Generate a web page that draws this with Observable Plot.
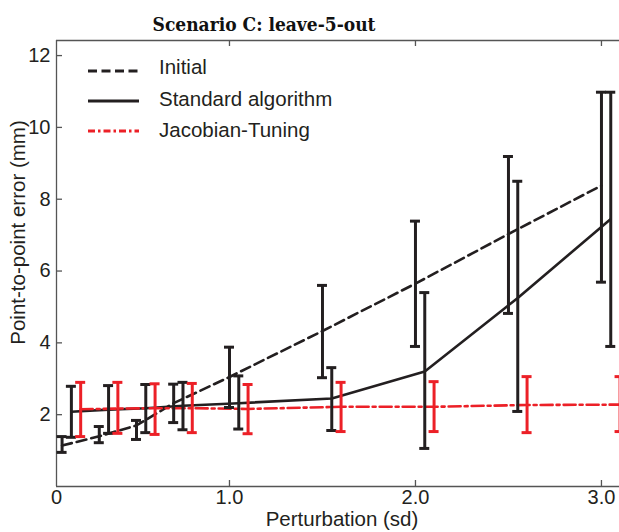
<!DOCTYPE html>
<html>
<head>
<meta charset="utf-8">
<script src="https://cdn.jsdelivr.net/npm/d3@7"></script>
<script src="https://cdn.jsdelivr.net/npm/@observablehq/plot@0.6"></script>
<style>
  body { margin: 0; background: #fff; }
  #wrap { position: relative; width: 619px; height: 532px; overflow: hidden; }
  #legend { position: absolute; left: 0; top: 0; pointer-events: none; }
</style>
</head>
<body>
<div id="wrap"></div>
<script>
// ---- data ----
const perturbation = [0.1, 0.3, 0.5, 0.7, 1.0, 1.5, 2.0, 2.5, 3.0];

const initialMean = [1.14, 1.40, 1.70, 2.32, 3.05, 4.33, 5.65, 7.03, 8.38];
const initialLo   = [0.95, 1.22, 1.31, 1.78, 2.20, 3.03, 3.90, 4.82, 5.69];
const initialHi   = [1.39, 1.67, 1.84, 2.85, 3.88, 5.60, 7.39, 9.19, 10.98];

const standardMean = [2.08, 2.14, 2.18, 2.25, 2.32, 2.45, 3.20, 5.25, 7.45];
const standardLo   = [1.37, 1.48, 1.50, 1.58, 1.60, 1.56, 1.06, 2.09, 3.90];
const standardHi   = [2.79, 2.81, 2.84, 2.90, 3.08, 3.31, 5.40, 8.50, 10.98];

const jacobianMean = [2.15, 2.17, 2.18, 2.18, 2.16, 2.22, 2.22, 2.27, 2.28];
const jacobianLo   = [1.39, 1.48, 1.45, 1.50, 1.47, 1.53, 1.53, 1.50, 1.53];
const jacobianHi   = [2.90, 2.90, 2.86, 2.87, 2.84, 2.90, 2.92, 3.06, 3.06];

const seriesNames = ["Initial", "Standard algorithm", "Jacobian-Tuning"];
const seriesDodge = [0, 0.05, 0.1];   // horizontal dodge of each series (sd)

const xTicks = [1, 2, 3];
const xTickLabels = ["1.0", "2.0", "3.0"];
const yTicks = [2, 4, 6, 8, 10, 12];

const titleText = "Scenario C: leave-5-out";
const xLabel = "Perturbation (sd)";
const yLabel = "Point-to-point error (mm)";

// ---- build table ----
const BLACK = "#231f20", RED = "#ec2027";
function rows(mean, lo, hi, k) {
  return perturbation.map((p, i) => ({x: p + seriesDodge[k], y: mean[i], lo: lo[i], hi: hi[i]}));
}
const initial = rows(initialMean, initialLo, initialHi, 0);
const standard = rows(standardMean, standardLo, standardHi, 1);
const jacobian = rows(jacobianMean, jacobianLo, jacobianHi, 2);

const W = 619, H = 532, mL = 56, mR = 0, mT = 40, mB = 46;
const innerW = W - mL - mR, innerH = H - mT - mB;
const xDomain = [0.07, 3.097];
const yDomain = [0, 12.42];

function errorBars(data, color) {
  return [
    Plot.ruleX(data, {x: "x", y1: "lo", y2: "hi", stroke: color, strokeWidth: 3}),
    Plot.ruleY(data, {y: "hi", x1: "x", x2: "x", insetLeft: -5, insetRight: -5, stroke: color, strokeWidth: 3}),
    Plot.ruleY(data, {y: "lo", x1: "x", x2: "x", insetLeft: -5, insetRight: -5, stroke: color, strokeWidth: 3})
  ];
}

const chart = Plot.plot({
  width: W, height: H,
  marginLeft: mL, marginRight: mR, marginTop: mT, marginBottom: mB,
  style: {fontFamily: "'Liberation Sans', Arial, sans-serif", fontSize: "20px", color: BLACK, overflow: "visible"},
  x: {domain: xDomain, axis: null},
  y: {domain: yDomain, axis: null},
  marks: [
    // frame (left, bottom, top)
    Plot.ruleX([xDomain[0]], {stroke: "#555", strokeWidth: 1.3}),
    Plot.ruleY([yDomain[0]], {stroke: "#555", strokeWidth: 1.3}),
    Plot.ruleY([yDomain[1]], {stroke: "#555", strokeWidth: 1.3}),
    // inward ticks
    Plot.tickX(xTicks, {x: d => d, insetTop: innerH - 6, stroke: "#555", strokeWidth: 1.3}),
    Plot.tickX(xTicks, {x: d => d, insetBottom: innerH - 6, stroke: "#555", strokeWidth: 1.3}),
    Plot.tickY(yTicks, {y: d => d, insetRight: innerW - 6, stroke: "#555", strokeWidth: 1.3}),
    // axes labels
    Plot.axisX(xTicks, {tickSize: 0, tickPadding: 3, tickFormat: (d, i) => xTickLabels[i], fontSize: 20, label: null}),
    Plot.text(["0"], {x: xDomain[0], frameAnchor: "bottom", dy: 3, lineAnchor: "top", fontSize: 20, fill: BLACK}),
    Plot.axisY(yTicks, {tickSize: 0, tickPadding: 6, fontSize: 20, label: null}),
    Plot.text([xLabel], {frameAnchor: "bottom", dx: 4, dy: 39, lineAnchor: "bottom", fontSize: 20.5, fill: BLACK}),
    Plot.text([yLabel], {frameAnchor: "left", textAnchor: "middle", rotate: -90, dx: -38, dy: -31, fontSize: 20.5, fill: BLACK}),
    Plot.text([titleText], {frameAnchor: "top", dx: -74, dy: -23, fontSize: 19, fontWeight: "bold",
      fontFamily: "'DejaVu Serif Condensed', 'DejaVu Serif', serif", fill: "#111"}),
    // lines
    Plot.line(initial, {x: "x", y: "y", stroke: BLACK, strokeWidth: 2.6, strokeDasharray: "10,5"}),
    Plot.line(standard, {x: "x", y: "y", stroke: BLACK, strokeWidth: 2.6}),
    Plot.line(jacobian, {x: "x", y: "y", stroke: RED, strokeWidth: 2.6, strokeDasharray: "12,4,3,4"}),
    // error bars
    ...errorBars(initial, BLACK),
    ...errorBars(standard, BLACK),
    ...errorBars(jacobian, RED)
  ]
});

const wrap = document.getElementById("wrap");
wrap.appendChild(chart);
// condensed serif title
chart.querySelectorAll("text").forEach(t => {
  if (t.textContent === titleText) t.style.fontStretch = "condensed";
});

// legend overlay (inside plot, top-left)
const legendItems = [
  {name: seriesNames[0], color: BLACK, dash: "9,4.5", ly: 71, ty: 67},
  {name: seriesNames[1], color: BLACK, dash: null, ly: 101, ty: 99},
  {name: seriesNames[2], color: RED, dash: "7,3,2.5,3", ly: 131, ty: 130}
];
const ns = "http://www.w3.org/2000/svg";
const lg = document.createElementNS(ns, "svg");
lg.setAttribute("id", "legend");
lg.setAttribute("width", W); lg.setAttribute("height", H);
for (const it of legendItems) {
  const ln = document.createElementNS(ns, "line");
  ln.setAttribute("x1", 88); ln.setAttribute("x2", 139);
  ln.setAttribute("y1", it.ly); ln.setAttribute("y2", it.ly);
  ln.setAttribute("stroke", it.color); ln.setAttribute("stroke-width", 3.2);
  if (it.dash) ln.setAttribute("stroke-dasharray", it.dash);
  lg.appendChild(ln);
  const tx = document.createElementNS(ns, "text");
  tx.setAttribute("x", 159); tx.setAttribute("y", it.ty);
  tx.setAttribute("dy", "0.35em");
  tx.setAttribute("font-family", "'Liberation Sans', Arial, sans-serif");
  tx.setAttribute("font-size", "20.5");
  tx.setAttribute("fill", BLACK);
  tx.textContent = it.name;
  lg.appendChild(tx);
}
wrap.appendChild(lg);
</script>
</body>
</html>
